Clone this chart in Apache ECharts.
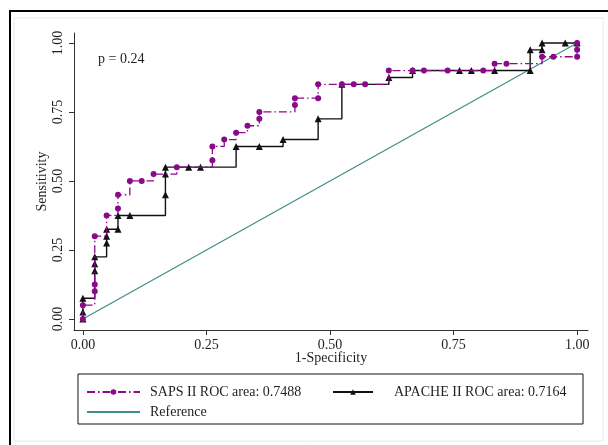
<!DOCTYPE html>
<html>
<head>
<meta charset="utf-8">
<script src="https://cdn.jsdelivr.net/npm/echarts@6/dist/echarts.min.js"></script>
<style>
  html, body { margin: 0; padding: 0; background: #fff; }
  #roc { width: 608px; height: 445px; }
</style>
</head>
<body>
<div id="roc"></div>
<script>
// ROC points (1-specificity, sensitivity)
const sapsX = [0, 0, 0.024, 0.024, 0.024, 0.048, 0.071, 0.071, 0.095, 0.119, 0.143, 0.19,
  0.262, 0.262, 0.286, 0.31, 0.333, 0.357, 0.357, 0.429, 0.429, 0.476, 0.476, 0.524, 0.548,
  0.571, 0.619, 0.667, 0.69, 0.738, 0.81, 0.833, 0.857, 0.929, 0.952, 1, 1, 1];
const sapsY = [0, 0.05, 0.1, 0.125, 0.3, 0.375, 0.4, 0.45, 0.5, 0.5, 0.525, 0.55,
  0.575, 0.625, 0.65, 0.675, 0.7, 0.725, 0.75, 0.775, 0.8, 0.8, 0.85, 0.85, 0.85,
  0.85, 0.9, 0.9, 0.9, 0.9, 0.9, 0.925, 0.925, 0.95, 0.95, 0.95, 0.975, 1];

const apacheX = [0, 0, 0, 0.024, 0.024, 0.024, 0.048, 0.048, 0.048, 0.071, 0.071, 0.095,
  0.167, 0.167, 0.167, 0.214, 0.238, 0.31, 0.357, 0.405, 0.476, 0.524, 0.619, 0.667,
  0.762, 0.786, 0.833, 0.905, 0.905, 0.929, 0.929, 0.976, 1];
const apacheY = [0, 0.025, 0.075, 0.175, 0.2, 0.225, 0.275, 0.3, 0.325, 0.325, 0.375, 0.375,
  0.45, 0.525, 0.55, 0.55, 0.55, 0.625, 0.625, 0.65, 0.725, 0.85, 0.875, 0.9,
  0.9, 0.9, 0.9, 0.9, 0.975, 0.975, 1, 1, 1];

const refX = [0, 1];
const refY = [0, 1];

const tickValues = [0, 0.25, 0.5, 0.75, 1];

const legendNames = ["SAPS II ROC area: 0.7488", "APACHE II ROC area: 0.7164", "Reference"];
const pText = "p = 0.24";

const serif = "'Liberation Serif', 'DejaVu Serif', serif";
const txt = "#1f1f1f";

function pairs(xs, ys) {
  return xs.map((x, i) => [x, ys[i]]);
}

const chart = echarts.init(document.getElementById("roc"), null, { renderer: "canvas" });

const legendBase = {
  orient: "horizontal",
  itemWidth: 53,
  itemHeight: 7,
  itemGap: 8,
  textStyle: { fontFamily: serif, fontSize: 14, color: txt, padding: [0, 0, 0, 5] },
  selectedMode: false
};

chart.setOption({
  animation: false,
  backgroundColor: "#fff",
  grid: { left: 74, right: 20, top: 33, bottom: 115, containLabel: false },
  graphic: [
    // outer frame: black top/left edges, light inner panel
    { type: "rect", shape: { x: 10, y: 11, width: 610, height: 450 }, style: { fill: "none", stroke: "#000", lineWidth: 2 }, z: -10 },
    { type: "rect", shape: { x: 14, y: 18, width: 589, height: 423 }, style: { fill: "#fff", stroke: "#e4ecec", lineWidth: 1 }, z: -9 },
    // legend box
    { type: "rect", shape: { x: 78, y: 374, width: 505, height: 50 }, style: { fill: "#fff", stroke: "#111", lineWidth: 1 }, z: -1 },
    { type: "text", left: 98, top: 52, style: { text: pText, font: "14px " + serif, fill: txt } }
  ],
  legend: [
    Object.assign({}, legendBase, { left: 81, top: 380, data: [legendNames[0]] }),
    Object.assign({}, legendBase, {
      left: 327, top: 380, itemWidth: 40, data: [legendNames[1]],
      textStyle: { fontFamily: serif, fontSize: 14, color: txt, padding: [0, 0, 0, 16] }
    }),
    Object.assign({}, legendBase, { left: 81, top: 400, data: [legendNames[2]], itemStyle: { opacity: 0 } })
  ],
  xAxis: {
    type: "value",
    min: -0.018,
    max: 1.022,
    name: "1-Specificity",
    nameLocation: "middle",
    nameGap: 21,
    nameMoveOverlap: false,
    nameTextStyle: { fontFamily: serif, fontSize: 14, color: txt },
    axisLine: { onZero: false, lineStyle: { color: "#333", width: 1 } },
    axisTick: { show: true, customValues: tickValues, length: 5, lineStyle: { color: "#333" } },
    axisLabel: {
      customValues: tickValues,
      margin: 8,
      fontFamily: serif, fontSize: 14, color: txt,
      formatter: v => v.toFixed(2)
    },
    splitLine: { show: false }
  },
  yAxis: {
    type: "value",
    min: -0.04,
    max: 1.036,
    name: "Sensitivity",
    nameLocation: "middle",
    nameGap: 25,
    nameMoveOverlap: false,
    nameTextStyle: { fontFamily: serif, fontSize: 14, color: txt },
    axisLine: { show: true, onZero: false, lineStyle: { color: "#333", width: 1 } },
    axisTick: { show: true, customValues: tickValues, length: 5, lineStyle: { color: "#333" } },
    axisLabel: {
      customValues: tickValues,
      rotate: 90,
      margin: 9,
      fontFamily: serif, fontSize: 14, color: txt,
      formatter: v => v.toFixed(2)
    },
    splitLine: { show: false }
  },
  series: [
    {
      name: legendNames[2],
      type: "line",
      data: pairs(refX, refY),
      symbol: "none",
      lineStyle: { color: "#3f8f87", width: 1.2 },
      itemStyle: { color: "#3f8f87" },
      z: 1
    },
    {
      name: legendNames[1],
      type: "line",
      step: "end",
      data: pairs(apacheX, apacheY),
      symbol: "triangle",
      symbolSize: 7,
      lineStyle: { color: "#111", width: 1.4 },
      itemStyle: { color: "#111" },
      z: 2
    },
    {
      name: legendNames[0],
      type: "line",
      step: "end",
      data: pairs(sapsX, sapsY),
      symbol: "circle",
      symbolSize: 6,
      lineStyle: { color: "#8a0a8a", width: 1.3, type: [8, 3, 1.5, 3] },
      itemStyle: { color: "#8a0a8a" },
      z: 3
    }
  ]
});
</script>
</body>
</html>
